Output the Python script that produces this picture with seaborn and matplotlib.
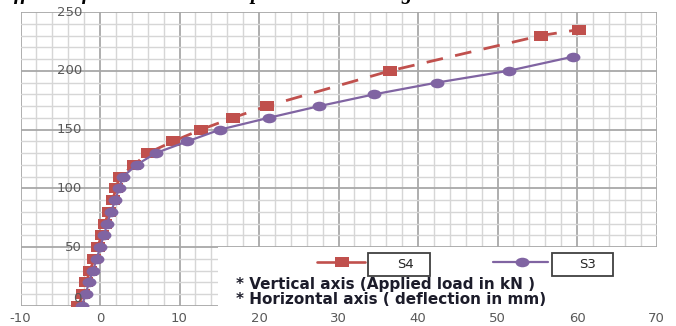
import matplotlib
matplotlib.use("Agg")
import matplotlib.pyplot as plt
import seaborn as sns
import numpy as np
import pandas as pd
from matplotlib.path import Path
from matplotlib.lines import Line2D
from matplotlib.patches import Rectangle
from matplotlib.ticker import MultipleLocator
from matplotlib.transforms import ScaledTranslation

# ---- data ----
load_s4 = [0, 10, 20, 30, 40, 50, 60, 70, 80, 90, 100, 110, 120, 130, 140, 150, 160, 170, 200, 230, 235]
defl_s4 = [-2.8, -2.1, -1.7, -1.3, -0.7, -0.3, 0.2, 0.6, 1.1, 1.6, 2.0, 2.5, 4.3, 6.0, 9.2, 12.7, 16.7, 21.0, 36.5, 55.5, 60.2]
load_s3 = [0, 10, 20, 30, 40, 50, 60, 70, 80, 90, 100, 110, 120, 130, 140, 150, 160, 170, 180, 190, 200, 212]
defl_s3 = [-2.3, -1.8, -1.4, -0.9, -0.4, 0.0, 0.5, 0.9, 1.4, 1.9, 2.4, 2.9, 4.6, 7.0, 11.0, 15.1, 21.2, 27.6, 34.5, 42.4, 51.4, 59.5]
series_names = ["S4", "S3"]
x_ticks = [-10, 0, 10, 20, 30, 40, 50, 60, 70]
y_ticks = [0, 50, 100, 150, 200, 250]
note_lines = ["* Vertical axis (Applied load in kN )", "* Horizontal axis ( deflection in mm)"]

RED = "#C0504D"
PURPLE = "#8064A2"

sns.set_style("white")
plt.rcParams["font.family"] = ["DejaVu Sans"]
plt.rcParams["axes.unicode_minus"] = False

W, H = 676, 326
fig = plt.figure(figsize=(W / 100, H / 100), dpi=100)
fx = lambda px: px / W
fy = lambda py: 1 - py / H

ax = fig.add_axes([fx(20.5), fy(306), (656.5 - 20.5) / W, (306 - 12) / H])

# custom wide markers (the source image is horizontally stretched)
rect_marker = Path(np.array([[-1.4, -1], [1.4, -1], [1.4, 1], [-1.4, 1], [-1.4, -1]]),
                   [Path.MOVETO, Path.LINETO, Path.LINETO, Path.LINETO, Path.CLOSEPOLY])
uc = Path.unit_circle()
ell_marker = Path(uc.vertices * np.array([1.45, 1.0]), uc.codes)

df4 = pd.DataFrame({"deflection": defl_s4, "load": load_s4})
df3 = pd.DataFrame({"deflection": defl_s3, "load": load_s3})

sns.lineplot(data=df4, x="deflection", y="load", ax=ax, sort=False, estimator=None,
             color=RED, lw=2.0, linestyle=(0, (6, 4.5)), marker=rect_marker,
             markersize=10, markeredgewidth=0, zorder=3)
sns.lineplot(data=df3, x="deflection", y="load", ax=ax, sort=False, estimator=None,
             color=PURPLE, lw=1.6, marker=ell_marker,
             markersize=10, markeredgewidth=0, zorder=4)

ax.set_xlim(-10, 70)
ax.set_ylim(0, 250)
ax.set_xticks(x_ticks)
ax.set_xticklabels([str(v) for v in x_ticks])
ax.set_yticks(y_ticks)
ax.set_yticklabels([])
ax.xaxis.set_minor_locator(MultipleLocator(2))
ax.yaxis.set_minor_locator(MultipleLocator(10))
ax.set_axisbelow(True)
ax.grid(which="major", color="#a8a8a8", lw=1.3)
ax.grid(which="minor", color="#d6d6d6", lw=1.0)
for s in ax.spines.values():
    s.set_visible(False)
ax.tick_params(which="both", length=0)
ax.tick_params(axis="x", pad=4.5, labelsize=9.5, labelcolor="#595959")
ax.set_xlabel("")
ax.set_ylabel("")

# y labels sit left of the x = 0 gridline, drawn above the markers as in the source
for v in y_ticks:
    dy = 8 / 100 if v == 0 else 0
    ax.text(0, v, str(v), transform=ax.transData + ScaledTranslation(-18 / 100, dy, fig.dpi_scale_trans),
            ha="right", va="center", fontsize=9.5, color="#595959", zorder=6, clip_on=False)

# white legend area
fig.add_artist(Rectangle((fx(218), fy(307.5)), (659 - 218) / W, (307.5 - 246.5) / H,
                         transform=fig.transFigure, facecolor="white", edgecolor="none", zorder=5))

# legend entries
ly = fy(262)
fig.add_artist(Line2D([fx(317), fx(365)], [ly, ly], color=RED, lw=1.9, transform=fig.transFigure, zorder=6))
fig.add_artist(Line2D([fx(342)], [ly], color=RED, marker=rect_marker, markersize=10, markeredgewidth=0,
                      transform=fig.transFigure, zorder=6))
fig.add_artist(Line2D([fx(493), fx(548)], [ly, ly], color=PURPLE, lw=1.6, transform=fig.transFigure, zorder=6))
fig.add_artist(Line2D([fx(522)], [ly], color=PURPLE, marker=ell_marker, markersize=10, markeredgewidth=0,
                      transform=fig.transFigure, zorder=6))
for (x0, x1, tx), name in zip([(368, 430, 405), (552, 613, 588)], series_names):
    fig.add_artist(Rectangle((fx(x0), fy(276)), (x1 - x0) / W, 23 / H, transform=fig.transFigure,
                             facecolor="white", edgecolor="#404040", lw=1.3, zorder=6))
    fig.text(fx(tx), fy(264.5), name, ha="center", va="center", fontsize=9.5,
             color="#262626", zorder=7)

for yy, t in zip([285, 300], note_lines):
    fig.text(fx(236), fy(yy), t, ha="left", va="center", fontsize=11, fontweight="bold",
             color="#1c1c2a", zorder=7)

# cropped caption fragments at the very top (only their descenders show)
for xx, t in zip([14, 82, 250, 401], ["ff", "f", "p", "g"]):
    fig.text(fx(xx), 1.0 + 1.5 / H, t, ha="left", va="baseline", fontsize=15, fontstyle="italic",
             fontweight="bold", family="Liberation Serif", color="black")

fig.savefig("out.png", dpi=100)
